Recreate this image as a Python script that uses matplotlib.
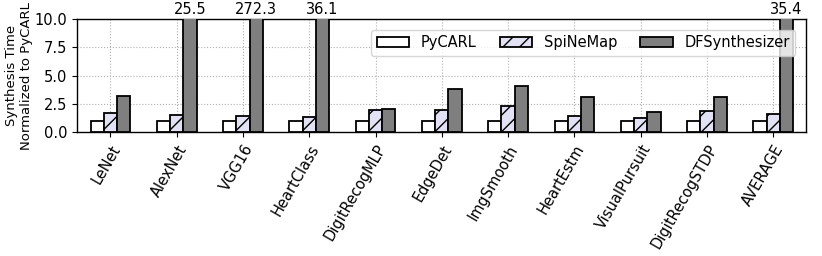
import numpy as np
from matplotlib import pyplot as plt

apps = ['LeNet', 'AlexNet', 'VGG16', 'HeartClass', 'DigitRecogMLP', 'EdgeDet',
        'ImgSmooth', 'HeartEstm', 'VisualPursuit', 'DigitRecogSTDP', 'AVERAGE']
pycarl = [1.0, 1.0, 1.0, 1.0, 1.0, 1.0, 1.0, 1.0, 1.0, 1.0, 1.0]
spinemap = [1.74, 1.5, 1.44, 1.35, 1.95, 1.97, 2.36, 1.42, 1.24, 1.92, 1.65]
dfsynth = [3.19, 25.5, 272.3, 36.1, 2.1, 3.78, 4.07, 3.1, 1.83, 3.1, 35.4]
ymax = 10.0

plt.rcParams['font.family'] = ['DejaVu Sans']
plt.rcParams['hatch.linewidth'] = 1.0

fig = plt.figure(figsize=(8.22, 2.56), dpi=100)
ax = fig.add_axes([0.094, 0.483, 0.887, 0.443])

x = np.arange(len(apps))
w = 0.2
ax.bar(x - w, pycarl, w, color='white', edgecolor='black', linewidth=1.3, label='PyCARL', zorder=3)
ax.bar(x, spinemap, w, color='#e2e2f4', edgecolor='black', linewidth=1.3, hatch='//', label='SpiNeMap', zorder=3)
ax.bar(x + w, dfsynth, w, color='#7f7f7f', edgecolor='black', linewidth=1.3, label='DFSynthesizer', zorder=3)

# values that go beyond the axis limit
for i, v in enumerate(dfsynth):
    if v > ymax:
        ax.text(x[i] + w, ymax + 0.15, '%.1f' % v, ha='center', va='bottom', fontsize=10.5)

ax.set_ylim(0, ymax)
ax.set_xlim(-0.5, len(apps) - 0.5)
ax.set_yticks([0, 2.5, 5, 7.5, 10])
ax.set_yticklabels(['0.0', '2.5', '5.0', '7.5', '10.0'], fontsize=10.5)
ax.set_xticks(x)
ax.set_xticklabels(apps, rotation=60, ha='right', rotation_mode='anchor', fontsize=10.5)
ax.set_ylabel('Synthesis Time\nNormalized to PyCARL', fontsize=9.5, labelpad=1, linespacing=1.2)
ax.grid(True, linestyle=':', color='#b0b0b0', linewidth=0.8, zorder=0)
for s in ax.spines.values():
    s.set_linewidth(1.0)

ax.legend(ncol=3, loc='upper right', fontsize=10.5, handlelength=2.2, columnspacing=1.6,
          bbox_to_anchor=(0.995, 0.97), framealpha=0.8)

fig.savefig('out.png', dpi=100)
